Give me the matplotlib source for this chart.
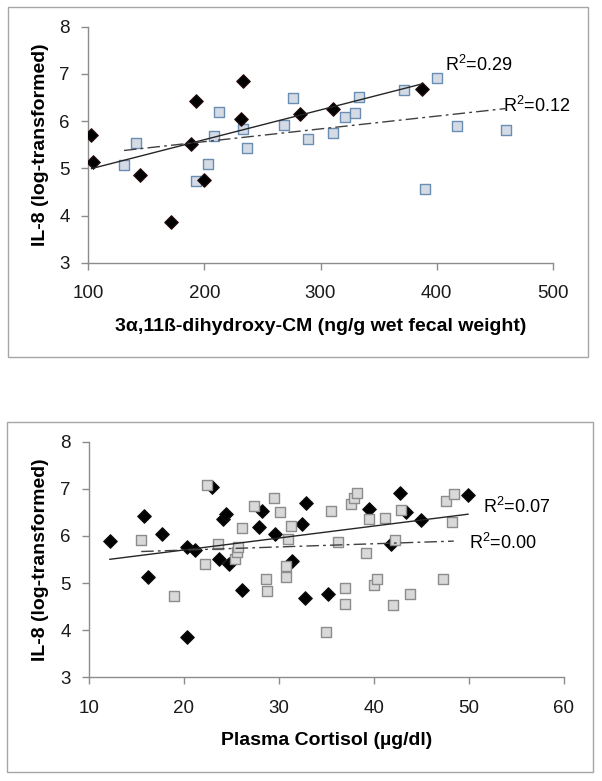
import matplotlib
matplotlib.use('Agg')
import matplotlib.pyplot as plt
from matplotlib.patches import Rectangle
import numpy as np

plt.rcParams['font.family'] = ['Liberation Sans', 'DejaVu Sans']
plt.rcParams['mathtext.fontset'] = 'custom'
plt.rcParams['mathtext.rm'] = 'Liberation Sans'

# top panel: fecal cortisol metabolite vs IL-8
cm_diamond_x = [103, 104, 145, 171, 189, 193, 200, 233, 232, 282, 311, 387]
cm_diamond_y = [5.70, 5.13, 4.85, 3.87, 5.51, 6.42, 4.75, 6.86, 6.04, 6.15, 6.26, 6.68]
cm_square_x = [131, 141, 193, 203, 208, 213, 233, 237, 269, 276, 289, 311, 321, 330, 333, 372, 400, 390, 417, 460]
cm_square_y = [5.08, 5.53, 4.74, 5.10, 5.68, 6.20, 5.84, 5.42, 5.92, 6.49, 5.63, 5.75, 6.08, 6.17, 6.51, 6.65, 6.91, 4.56, 5.89, 5.82]
cm_r2 = ['R$^2$=0.29', 'R$^2$=0.12']

# bottom panel: plasma cortisol vs IL-8
pc_diamond_x = [12.2, 15.8, 16.2, 17.7, 20.3, 20.3, 21.2, 23.0, 23.7, 24.1, 24.4, 24.7, 26.1, 27.9,
                28.2, 29.6, 31.4, 32.4, 32.8, 32.7, 35.2, 39.5, 41.8, 42.7, 43.4, 44.9, 49.9]
pc_diamond_y = [5.89, 6.43, 5.13, 6.04, 5.76, 3.86, 5.70, 7.04, 5.52, 6.36, 6.46, 5.40, 4.85, 6.18,
                6.53, 6.04, 5.46, 6.25, 6.70, 4.69, 4.77, 6.58, 5.83, 6.90, 6.51, 6.34, 6.87]
pc_square_x = [15.5, 19.0, 22.4, 22.2, 23.6, 25.4, 25.6, 25.7, 26.1, 27.4, 28.6, 28.7, 29.5, 30.1,
               30.7, 30.7, 30.9, 31.3, 34.9, 35.5, 36.2, 36.9, 36.9, 37.6, 37.9, 38.2, 39.2, 39.5,
               40.0, 40.3, 41.2, 42.0, 42.2, 42.8, 43.8, 47.3, 47.6, 48.4, 48.2]
pc_square_y = [5.91, 4.73, 7.08, 5.40, 5.82, 5.52, 5.66, 5.76, 6.16, 6.64, 5.08, 4.83, 6.81, 6.51,
               5.36, 5.13, 5.94, 6.21, 3.96, 6.53, 5.87, 4.89, 4.56, 6.68, 6.80, 6.92, 5.64, 6.36,
               4.95, 5.08, 6.39, 4.53, 5.91, 6.54, 4.77, 5.09, 6.74, 6.89, 6.30]
pc_r2 = ['R$^2$=0.07', 'R$^2$=0.00']


def trend(ax, x, y, **kw):
    x = np.array(x)
    k, b = np.polyfit(x, y, 1)
    xs = np.array([x.min(), x.max()])
    ax.plot(xs, k * xs + b, zorder=5, **kw)


def style_axes(ax, xlim, xstep, xlabel):
    ax.set_xlim(*xlim)
    ax.set_ylim(3, 8)
    ax.set_xticks(np.arange(xlim[0], xlim[1] + 1, xstep))
    ax.set_yticks(range(3, 9))
    for s in ['top', 'right']:
        ax.spines[s].set_visible(False)
    for s in ['left', 'bottom']:
        ax.spines[s].set_color('#8c8c8c')
        ax.spines[s].set_linewidth(1.0)
    ax.tick_params(axis='both', colors='#8c8c8c', labelcolor='#1a1a1a', labelsize=13.5,
                   direction='out', length=5, width=1.0)
    ax.tick_params(axis='x', pad=11)
    ax.tick_params(axis='y', pad=8)
    ax.set_xlabel(xlabel, fontsize=14, fontweight='bold')
    ax.set_ylabel('IL-8 (log-transformed)', fontsize=14, fontweight='bold')
    ax.xaxis.set_label_coords(0.5, -0.27)
    ax.xaxis.label.set_va('center')
    ax.yaxis.set_label_coords(-0.103, 0.5)
    ax.yaxis.label.set_va('center')


fig = plt.figure(figsize=(6.02, 7.81), dpi=100)

fig.add_artist(Rectangle((0.0125, 0.5429), 0.9643, 0.4475, transform=fig.transFigure,
                         fill=False, edgecolor='#a6a6a6', linewidth=1.0))
fig.add_artist(Rectangle((0.0121, 0.0115), 0.9729, 0.4481, transform=fig.transFigure,
                         fill=False, edgecolor='#a6a6a6', linewidth=1.0))

ax1 = fig.add_axes([0.1462, 0.6636, 0.7724, 0.3022])
ax1.scatter(cm_square_x, cm_square_y, marker='s', s=62, facecolor='#d5dbe5', edgecolor='#6a8db3',
            linewidth=1.0, zorder=3)
ax1.scatter(cm_diamond_x, cm_diamond_y, marker='D', s=48, facecolor='black', edgecolor='#2a1010',
            linewidth=0.8, zorder=4)
trend(ax1, cm_diamond_x, cm_diamond_y, color='#262626', linewidth=1.0)
trend(ax1, cm_square_x, cm_square_y, color='#404040', linewidth=1.0, dashes=(9, 3, 2, 3))
ax1.text(407, 7.19, cm_r2[0], fontsize=13, va='center', ha='left')
ax1.text(457, 6.32, cm_r2[1], fontsize=13, va='center', ha='left')
style_axes(ax1, (100, 500), 100, '3α,11ß-dihydroxy-CM (ng/g wet fecal weight)')

ax2 = fig.add_axes([0.1478, 0.1328, 0.7890, 0.3017])
ax2.scatter(pc_diamond_x, pc_diamond_y, marker='D', s=48, facecolor='black', edgecolor='#101010',
            linewidth=0.8, zorder=3)
ax2.scatter(pc_square_x, pc_square_y, marker='s', s=62, facecolor='#d9d9d9', edgecolor='#8c8c8c',
            linewidth=1.0, zorder=4)
trend(ax2, pc_diamond_x, pc_diamond_y, color='#262626', linewidth=1.0)
trend(ax2, pc_square_x, pc_square_y, color='#404040', linewidth=1.0, dashes=(9, 3, 2, 3))
ax2.text(51.5, 6.62, pc_r2[0], fontsize=13, va='center', ha='left')
ax2.text(50.0, 5.85, pc_r2[1], fontsize=13, va='center', ha='left')
style_axes(ax2, (10, 60), 10, 'Plasma Cortisol (µg/dl)')

fig.savefig('out.png', dpi=100)
